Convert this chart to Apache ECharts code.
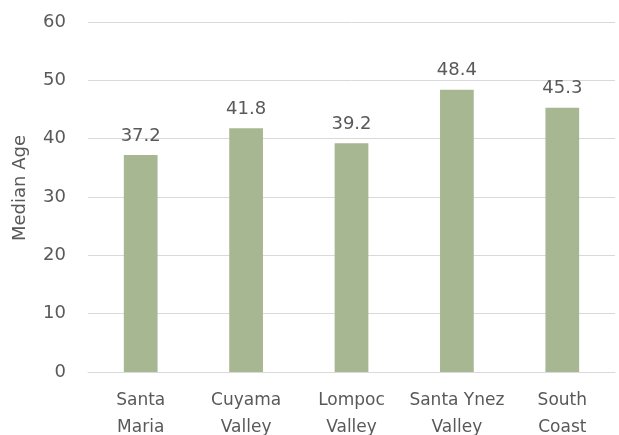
<!DOCTYPE html>
<html>
<head>
<meta charset="utf-8">
<script src="https://cdn.jsdelivr.net/npm/echarts@6/dist/echarts.min.js"></script>
<style>
  html, body { margin: 0; padding: 0; background: #fff; }
  #chart { width: 619px; height: 435px; }
</style>
</head>
<body>
<div id="chart"></div>
<script>
// Median age by region
const categories = ['Santa\nMaria', 'Cuyama\nValley', 'Lompoc\nValley', 'Santa Ynez\nValley', 'South\nCoast'];
const medianAge = [37.2, 41.8, 39.2, 48.4, 45.3];
const yTicks = { min: 0, max: 60, interval: 10 };

const FONT = 'DejaVu Sans';
const TEXT = '#595959';

const chart = echarts.init(document.getElementById('chart'), null, { renderer: 'canvas' });
chart.setOption({
  animation: false,
  textStyle: { fontFamily: FONT },
  grid: { left: 88, right: 4, top: 22, bottom: 63, containLabel: false, outerBoundsMode: 'none' },
  xAxis: {
    type: 'category',
    data: categories,
    axisLine: { lineStyle: { color: '#d9d9d9', width: 1 } },
    axisTick: { show: false },
    axisLabel: { color: TEXT, fontSize: 17, lineHeight: 27, margin: 15, fontFamily: FONT, interval: 0 }
  },
  yAxis: {
    type: 'value',
    min: yTicks.min,
    max: yTicks.max,
    interval: yTicks.interval,
    name: 'Median Age',
    nameLocation: 'middle',
    nameGap: 59,
    nameTextStyle: { color: TEXT, fontSize: 18, fontFamily: FONT, padding: [0, 0, 0, 18] },
    axisLine: { show: false },
    axisTick: { show: false },
    axisLabel: { color: TEXT, fontSize: 18, margin: 22, fontFamily: FONT },
    splitLine: { lineStyle: { color: '#d9d9d9', width: 1 } }
  },
  series: [{
    type: 'bar',
    data: medianAge,
    barWidth: '32%',
    itemStyle: { color: '#A6B792' },
    label: {
      show: true,
      position: 'top',
      distance: 10,
      color: TEXT,
      fontSize: 18,
      fontFamily: FONT,
      formatter: p => p.value.toFixed(1)
    }
  }]
});
</script>
</body>
</html>
